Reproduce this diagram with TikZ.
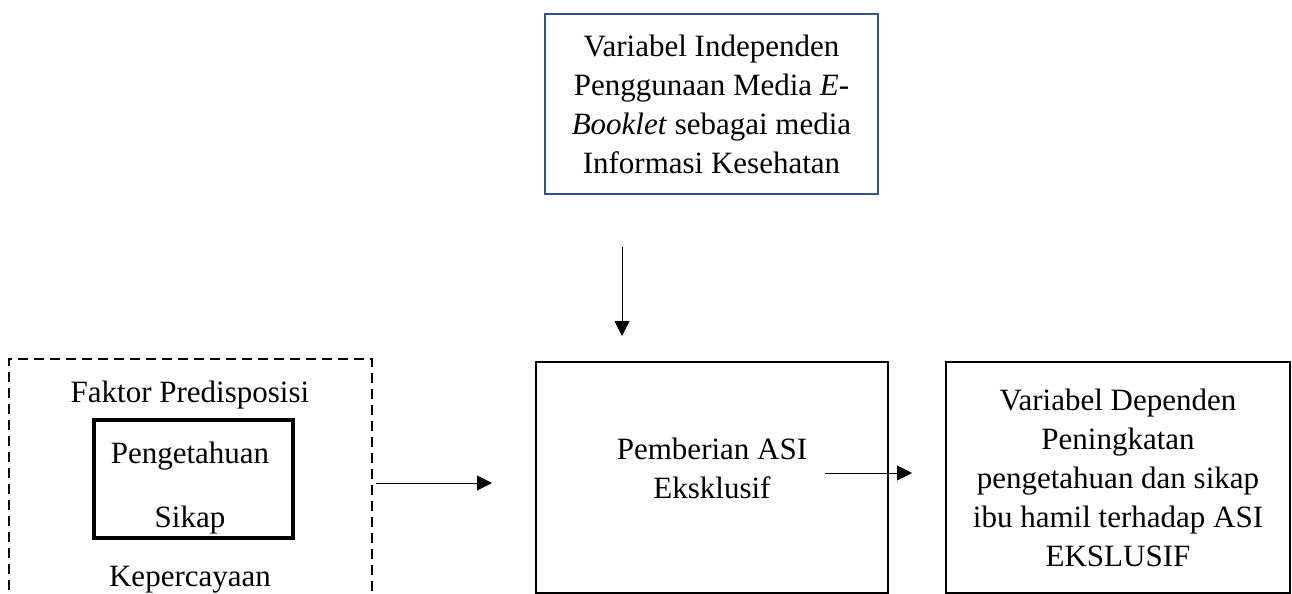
\documentclass[tikz,border=0pt]{standalone}
\usepackage{fontspec}
\setmainfont{Liberation Serif}
\usepackage{tikz}
\usetikzlibrary{arrows.meta}

\definecolor{boxblue}{RGB}{47,82,143}

\begin{document}
\begin{tikzpicture}[x=0.5pt, y=-0.5pt, font=\fontsize{15.5pt}{19.5pt}\selectfont, box/.style={draw, line width=1pt, align=center, inner sep=0pt, minimum height=115.5pt}, inner/.style={draw, line width=1.75pt, minimum width=99.5pt, minimum height=59pt}, dashbox/.style={draw, line width=1.25pt, dash pattern=on 5pt off 3pt, minimum width=181.5pt, minimum height=150.5pt}, txt/.style={anchor=base, inner sep=0pt}, n/.style={-{Triangle[length=7.5pt, width=7.5pt]}, line width=0.5pt}]
            \useasboundingbox (0,0) rectangle (1292,594);
            % nodes
            \node[box, draw=boxblue, minimum width=166.5pt, minimum height=90pt] (indep) at (711.5,104) {Variabel Independen\\Penggunaan Media \textit{E-}\\\textit{Booklet} sebagai media\\Informasi Kesehatan};
            \node[dashbox] (predis) at (190.5,509.5) {};
            \node[txt] (faktor) at (190,402) {Faktor Predisposisi};
            \node[inner] (pengsikap) at (193.5,479) {};
            \node[txt] (peng) at (190,463) {Pengetahuan};
            \node[txt] (sikap) at (190,527) {Sikap};
            \node[txt] (percaya) at (190,586) {Kepercayaan};
            \node[box, minimum width=176pt, text depth=9pt] (asi) at (712,477.5) {Pemberian ASI\\Eksklusif};
            \node[box, minimum width=172pt] (dep) at (1118,477.5) {Variabel Dependen\\Peningkatan\\pengetahuan dan sikap\\ibu hamil terhadap ASI\\EKSLUSIF};
            % arrow ends
            \coordinate (vtop) at (622,247);
            \coordinate (vtip) at (622,336);
            \coordinate (ltip) at (492,483);
            \coordinate (rstart) at (825,473);
            \coordinate (rtip) at (912,473);
            % edges
            \draw [n] (vtop) -- (vtip);
            \draw [n] ([xshift=1.5pt]predis.east |- ltip) -- (ltip);
            \draw [n] (rstart) -- (rtip);
        \end{tikzpicture}
\end{document}
